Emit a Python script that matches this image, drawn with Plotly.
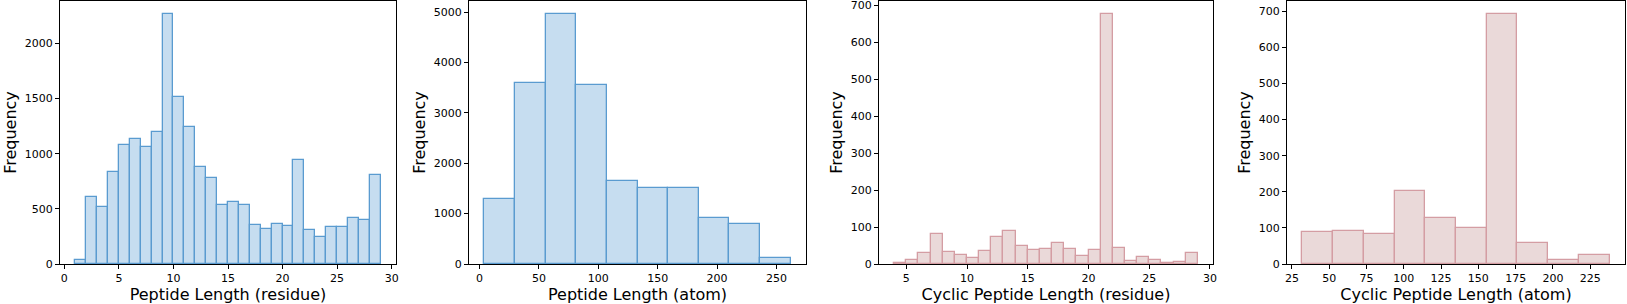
import plotly.graph_objects as go

W, H = 1627, 304

# ---- data ----
res_edges_start = 1
res_bin_width = 1
res_counts = [33, 609, 521, 832, 1082, 1134, 1062, 1200, 2271, 1511, 1240, 883, 778, 534,
              561, 539, 353, 319, 362, 347, 944, 308, 247, 335, 338, 416, 395, 811]

atom_edges_start = 4
atom_bin_width = 25.8
atom_counts = [1295, 3595, 4970, 3560, 1655, 1500, 1505, 905, 795, 115]

cyc_res_edges_start = 4
cyc_res_bin_width = 1
cyc_res_counts = [2, 11, 29, 80, 32, 23, 15, 34, 73, 90, 50, 37, 41, 57, 41, 22, 38, 677,
                  42, 7, 18, 12, 4, 6, 29]

cyc_atom_edges_start = 32
cyc_atom_bin_width = 20.6
cyc_atom_counts = [89, 92, 84, 202, 127, 101, 694, 58, 11, 26]

x_titles = ["Peptide Length (residue)", "Peptide Length (atom)",
            "Cyclic Peptide Length (residue)", "Cyclic Peptide Length (atom)"]
x_ticks = [[0, 5, 10, 15, 20, 25, 30],
           [0, 50, 100, 150, 200, 250],
           [5, 10, 15, 20, 25, 30],
           [25, 50, 75, 100, 125, 150, 175, 200, 225]]
y_ticks = [[0, 500, 1000, 1500, 2000],
           [0, 1000, 2000, 3000, 4000, 5000],
           [0, 100, 200, 300, 400, 500, 600, 700],
           [0, 100, 200, 300, 400, 500, 600, 700]]

BLUE_FILL, BLUE_EDGE = "#c6ddf0", "#5a9bd0"
PINK_FILL, PINK_EDGE = "#ead9d9", "#d49da3"

series = [
    (res_edges_start, res_bin_width, res_counts, BLUE_FILL, BLUE_EDGE),
    (atom_edges_start, atom_bin_width, atom_counts, BLUE_FILL, BLUE_EDGE),
    (cyc_res_edges_start, cyc_res_bin_width, cyc_res_counts, PINK_FILL, PINK_EDGE),
    (cyc_atom_edges_start, cyc_atom_bin_width, cyc_atom_counts, PINK_FILL, PINK_EDGE),
]

# axes pixel boxes (left, right)
x_boxes = [(60, 396), (469, 806), (879, 1213), (1287, 1625)]

fig = go.Figure()
layout = {}
for i, (start, width, counts, fill, edge) in enumerate(series):
    n = i + 1
    xa = "x" if n == 1 else f"x{n}"
    ya = "y" if n == 1 else f"y{n}"
    centers = [start + width * (k + 0.5) for k in range(len(counts))]
    fig.add_trace(go.Bar(
        x=centers, y=counts, width=[width] * len(counts),
        marker=dict(color=fill, line=dict(color=edge, width=1.3)),
        xaxis=xa, yaxis=ya, showlegend=False, hoverinfo="x+y"))
    lo = start
    hi = start + width * len(counts)
    pad = (hi - lo) * 0.05
    ymax = max(counts) * 1.05
    l, r = x_boxes[i]
    axis_common = dict(showline=True, linecolor="black", linewidth=1, mirror=True,
                       ticks="outside", ticklen=4, tickwidth=1, tickcolor="black",
                       showgrid=False, zeroline=False, automargin=False,
                       ticklabeloverflow="allow",
                       tickfont=dict(family="DejaVu Sans", size=11, color="black"))
    layout["xaxis" if n == 1 else f"xaxis{n}"] = dict(
        domain=[l / W, r / W], anchor=ya, range=[lo - pad, hi + pad],
        tickvals=x_ticks[i],
        title=dict(text=x_titles[i], font=dict(family="DejaVu Sans", size=16, color="black"),
                   standoff=4),
        **axis_common)
    layout["yaxis" if n == 1 else f"yaxis{n}"] = dict(
        domain=[0, 1], anchor=xa, range=[0, ymax], tickvals=y_ticks[i],
        title=dict(text="Frequency", font=dict(family="DejaVu Sans", size=16, color="black"),
                   standoff=4),
        **axis_common)

fig.update_layout(
    width=W, height=H,
    margin=dict(l=0, r=0, t=1, b=40, autoexpand=False),
    paper_bgcolor="white", plot_bgcolor="white",
    bargap=0, font=dict(family="DejaVu Sans", color="black"),
    **layout)

fig.write_html("out.html", config={"displayModeBar": False},
               post_script="document.body.style.margin='0';document.body.style.padding='0';")
